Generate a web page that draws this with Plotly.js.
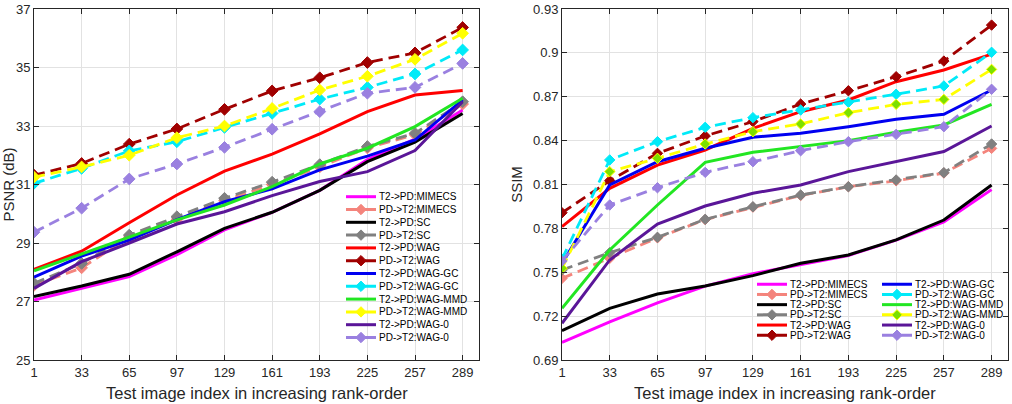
<!DOCTYPE html>
<html><head><meta charset="utf-8">
<script src="https://cdn.plot.ly/plotly-3.0.1.min.js"></script>
<style>html,body{margin:0;padding:0;background:#fff}#chart{width:1012px;height:404px}</style>
</head><body><div id="chart"></div>
<script>
// ---------- data ----------
const xIdx = [1, 33, 65, 97, 129, 161, 193, 225, 257, 289];
const xTickLabels = ['1', '33', '65', '97', '129', '161', '193', '225', '257', '289'];
const psnrTicks = [25, 27, 29, 31, 33, 35, 37];
const psnrTickLabels = ['25', '27', '29', '31', '33', '35', '37'];
const ssimTicks = [0.69, 0.72, 0.75, 0.78, 0.81, 0.84, 0.87, 0.90, 0.93];
const ssimTickLabels = ['0.69', '0.72', '0.75', '0.78', '0.81', '0.84', '0.87', '0.9', '0.93'];

const seriesNames = ['T2->PD:MIMECS', 'PD->T2:MIMECS', 'T2->PD:SC', 'PD->T2:SC',
  'T2->PD:WAG', 'PD->T2:WAG', 'T2->PD:WAG-GC', 'PD->T2:WAG-GC',
  'T2->PD:WAG-MMD', 'PD->T2:WAG-MMD', 'T2->PD:WAG-0', 'PD->T2:WAG-0'];
const xTitleText = 'Test image index in increasing rank-order';

// PSNR (dB)
const psnr_T2PD_MIMECS = [27.05, 27.45, 27.85, 28.60, 29.45, 30.05, 30.80, 31.85, 32.55, 33.55];
const psnr_PDT2_MIMECS = [27.55, 28.15, 29.20, 29.80, 30.45, 31.00, 31.60, 32.25, 32.70, 33.75];
const psnr_T2PD_SC     = [27.17, 27.53, 27.93, 28.70, 29.50, 30.05, 30.80, 31.78, 32.45, 33.43];
const psnr_PDT2_SC     = [27.62, 28.30, 29.27, 29.90, 30.53, 31.08, 31.68, 32.30, 32.75, 33.83];
const psnr_T2PD_WAG    = [28.10, 28.72, 29.69, 30.64, 31.46, 32.04, 32.73, 33.49, 34.06, 34.21];
const psnr_PDT2_WAG    = [31.32, 31.72, 32.38, 32.90, 33.57, 34.20, 34.65, 35.17, 35.50, 36.37];
const psnr_T2PD_GC     = [27.83, 28.55, 29.10, 29.80, 30.41, 30.85, 31.50, 31.97, 32.52, 33.89];
const psnr_PDT2_GC     = [31.04, 31.55, 32.15, 32.46, 32.95, 33.43, 33.92, 34.32, 34.78, 35.60];
const psnr_T2PD_MMD    = [28.05, 28.62, 29.20, 29.79, 30.30, 30.93, 31.70, 32.24, 32.98, 33.95];
const psnr_PDT2_MMD    = [31.25, 31.60, 32.00, 32.60, 33.00, 33.60, 34.23, 34.70, 35.28, 36.17];
const psnr_T2PD_0      = [27.45, 28.36, 29.00, 29.65, 30.07, 30.62, 31.10, 31.44, 32.16, 33.83];
const psnr_PDT2_0      = [29.37, 30.19, 31.19, 31.70, 32.27, 32.89, 33.49, 34.12, 34.32, 35.14];

// SSIM
const ssim_T2PD_MIMECS = [0.7020, 0.7160, 0.7290, 0.7405, 0.7490, 0.7555, 0.7615, 0.7720, 0.7845, 0.8065];
const ssim_PDT2_MIMECS = [0.7458, 0.7595, 0.7735, 0.7860, 0.7945, 0.8025, 0.8085, 0.8125, 0.8178, 0.8347];
const ssim_T2PD_SC     = [0.7100, 0.7253, 0.7351, 0.7406, 0.7477, 0.7561, 0.7618, 0.7721, 0.7857, 0.8097];
const ssim_PDT2_SC     = [0.7515, 0.7634, 0.7739, 0.7862, 0.7948, 0.8028, 0.8085, 0.8131, 0.8181, 0.8377];
const ssim_T2PD_WAG    = [0.7812, 0.8074, 0.8233, 0.8336, 0.8484, 0.8598, 0.8678, 0.8803, 0.8883, 0.8992];
const ssim_PDT2_WAG    = [0.7907, 0.8126, 0.8313, 0.8432, 0.8530, 0.8650, 0.8741, 0.8837, 0.8944, 0.9190];
const ssim_T2PD_GC     = [0.7560, 0.8097, 0.8256, 0.8348, 0.8423, 0.8450, 0.8495, 0.8546, 0.8580, 0.8746];
const ssim_PDT2_GC     = [0.7590, 0.8268, 0.8393, 0.8491, 0.8557, 0.8609, 0.8662, 0.8717, 0.8774, 0.9004];
const ssim_T2PD_MMD    = [0.7253, 0.7652, 0.7960, 0.8252, 0.8320, 0.8359, 0.8400, 0.8457, 0.8507, 0.8648];
const ssim_PDT2_MMD    = [0.7527, 0.8188, 0.8279, 0.8377, 0.8461, 0.8514, 0.8591, 0.8648, 0.8682, 0.8887];
const ssim_T2PD_0      = [0.7151, 0.7584, 0.7830, 0.7953, 0.8040, 0.8097, 0.8188, 0.8256, 0.8325, 0.8500];
const ssim_PDT2_0      = [0.7577, 0.7960, 0.8078, 0.8183, 0.8256, 0.8331, 0.8393, 0.8443, 0.8495, 0.8751];

const psnrSeries = [psnr_T2PD_MIMECS, psnr_PDT2_MIMECS, psnr_T2PD_SC, psnr_PDT2_SC, psnr_T2PD_WAG, psnr_PDT2_WAG,
  psnr_T2PD_GC, psnr_PDT2_GC, psnr_T2PD_MMD, psnr_PDT2_MMD, psnr_T2PD_0, psnr_PDT2_0];
const ssimSeries = [ssim_T2PD_MIMECS, ssim_PDT2_MIMECS, ssim_T2PD_SC, ssim_PDT2_SC, ssim_T2PD_WAG, ssim_PDT2_WAG,
  ssim_T2PD_GC, ssim_PDT2_GC, ssim_T2PD_MMD, ssim_PDT2_MMD, ssim_T2PD_0, ssim_PDT2_0];

// ---------- styles ----------
const colors = ['#ff00ff', '#f4847c', '#000000', '#808080', '#ff0000', '#a00000',
  '#0000f0', '#00eaf8', '#22e622', '#ffff00', '#5a1698', '#9a80e0'];
const isDashed = [false, true, false, true, false, true, false, true, false, true, false, true];
const markerFillRight = colors.slice(); markerFillRight[9] = '#7ce000';

const FONT = 'Arial, "Liberation Sans", sans-serif';
const W = 1012, H = 404;
const DASH = '11px,6px';

const traces = [];
function addSeries(series, xa, ya, fills, msize) {
  series.forEach((ys, i) => {
    traces.push({
      type: 'scatter', x: xIdx, y: ys, xaxis: xa, yaxis: ya, name: seriesNames[i], showlegend: false,
      mode: isDashed[i] ? 'lines+markers' : 'lines',
      line: {color: colors[i], width: isDashed[i] ? 2.8 : 3, dash: isDashed[i] ? DASH : 'solid'},
      marker: {symbol: 'diamond', size: msize, color: fills[i], line: {color: colors[i], width: 1}},
      hoverinfo: 'x+y+name'
    });
  });
}
addSeries(psnrSeries, 'x', 'y', colors, 9);
addSeries(ssimSeries, 'x2', 'y2', markerFillRight, 8);

// ---------- custom compact legends (pixel overlay axes) ----------
const annotations = [];
function legendEntry(i, x0, yc, fills, fsize) {
  const x1 = x0 + 30, xm = x0 + 15;
  traces.push({type: 'scatter', x: [x0, x1], y: [yc, yc], xaxis: 'x3', yaxis: 'y3', mode: 'lines', showlegend: false,
    hoverinfo: 'skip', line: {color: colors[i], width: 3, dash: isDashed[i] ? '11px,8px' : 'solid'}});
  if (isDashed[i]) {
    traces.push({type: 'scatter', x: [xm], y: [yc], xaxis: 'x3', yaxis: 'y3', mode: 'markers', showlegend: false,
      hoverinfo: 'skip', marker: {symbol: 'diamond', size: 8, color: fills[i], line: {color: colors[i], width: 1}}});
  }
  annotations.push({xref: 'x3', yref: 'y3', x: x1 + 2, y: yc, text: seriesNames[i], showarrow: false,
    xanchor: 'left', yanchor: 'middle', borderpad: 0, font: {family: FONT, size: fsize, color: '#000'}});
}
// left legend: one column
seriesNames.forEach((n, i) => legendEntry(i, 346, 196.7 + i * 12.8, colors, 10));
// right legend: two columns of six
seriesNames.forEach((n, i) => {
  const col = Math.floor(i / 6), row = i % 6;
  legendEntry(i, col === 0 ? 757 : 882, 309.75 + (row - 2.5) * 10.2, markerFillRight, 10);
});

// x-axis titles
annotations.push({xref: 'paper', yref: 'paper', x: (34 + 479) / 2 / W, y: 1 - 393 / H, text: xTitleText, showarrow: false,
  xanchor: 'center', yanchor: 'middle', font: {family: FONT, size: 16.5, color: '#262626'}});
annotations.push({xref: 'paper', yref: 'paper', x: (562 + 1008) / 2 / W, y: 1 - 393 / H, text: xTitleText, showarrow: false,
  xanchor: 'center', yanchor: 'middle', font: {family: FONT, size: 16.5, color: '#262626'}});

// ---------- layout ----------
const axBase = {
  showline: true, mirror: 'ticks', linecolor: '#262626', linewidth: 1,
  ticks: 'inside', ticklen: 5, tickwidth: 1, tickcolor: '#262626',
  showgrid: true, gridcolor: '#e2e2e2', gridwidth: 1, zeroline: false,
  tickfont: {family: FONT, size: 13, color: '#262626'}, automargin: false, fixedrange: true
};
const yDom = [1 - 360 / H, 1 - 9 / H];

const layout = {
  width: W, height: H, margin: {l: 0, r: 0, t: 0, b: 0},
  paper_bgcolor: '#ffffff', plot_bgcolor: 'rgba(0,0,0,0)', showlegend: false,
  xaxis: Object.assign({}, axBase, {domain: [34 / W, 479 / W], range: [1, 300], tickvals: xIdx, ticktext: xTickLabels, anchor: 'y'}),
  yaxis: Object.assign({}, axBase, {domain: yDom, range: [25, 37], tickvals: psnrTicks, ticktext: psnrTickLabels, anchor: 'x',
    title: {text: 'PSNR (dB)', font: {family: FONT, size: 15, color: '#262626'}}}),
  xaxis2: Object.assign({}, axBase, {domain: [562 / W, 1008 / W], range: [1, 300], tickvals: xIdx, ticktext: xTickLabels, anchor: 'y2'}),
  yaxis2: Object.assign({}, axBase, {domain: yDom, range: [0.69, 0.93], tickvals: ssimTicks, ticktext: ssimTickLabels, anchor: 'x2',
    title: {text: 'SSIM', font: {family: FONT, size: 15, color: '#262626'}}}),
  xaxis3: {domain: [0, 1], range: [0, W], visible: false, fixedrange: true, anchor: 'y3'},
  yaxis3: {domain: [0, 1], range: [H, 0], visible: false, fixedrange: true, anchor: 'x3'},
  annotations: annotations
};

Plotly.newPlot('chart', traces, layout, {displayModeBar: false, staticPlot: true});
</script>
</body></html>
